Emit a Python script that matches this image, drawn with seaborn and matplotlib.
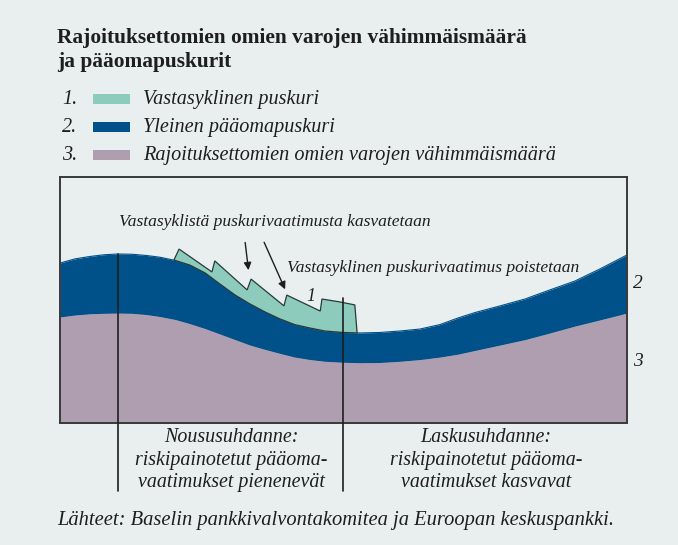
import numpy as np
import matplotlib
matplotlib.use("Agg")
import matplotlib.pyplot as plt
from matplotlib.patches import Rectangle
import seaborn as sns

# ---- data (conceptual units: time 0..100, level 0..100) ----
time = [0.0, 2.6, 5.3, 7.8, 10.2, 12.7, 15.2, 17.6, 20.3, 22.9, 25.6, 28.2, 30.9, 33.5, 36.2,
        38.8, 41.4, 44.1, 46.7, 49.9, 52.9, 56.4, 60.0, 63.5, 67.0, 70.2, 73.2, 77.6, 82.0,
        86.4, 90.8, 95.2, 100.0]
minimum_level = [43.1, 43.9, 44.4, 44.6, 44.7, 44.6, 44.1, 43.3, 42.1, 40.4, 38.4, 36.2, 33.9,
                 31.7, 29.9, 28.3, 26.8, 25.8, 25.1, 24.7, 24.5, 24.6, 25.1, 25.8, 26.8, 28.0,
                 29.5, 31.7, 33.9, 36.6, 39.4, 41.9, 44.7]
buffer_level = [65.0, 66.7, 67.7, 68.4, 68.7, 68.6, 68.1, 67.4, 66.1, 64.2, 61.0, 56.5, 52.0,
                48.4, 45.1, 42.3, 40.0, 38.6, 37.4, 36.8, 36.6, 36.8, 37.4, 38.2, 40.0, 42.7,
                44.9, 47.6, 50.4, 54.1, 57.7, 62.6, 68.3]
ccb_time = [20.1, 21.0, 26.8, 27.3, 33.0, 33.7, 39.5, 40.0, 45.9, 46.2, 49.4, 52.0, 52.4]
ccb_level = [66.3, 70.7, 61.4, 65.9, 54.1, 58.5, 47.6, 52.0, 45.5, 50.4, 49.2, 48.0, 36.6]

title = "Rajoituksettomien omien varojen vähimmäismäärä\nja pääomapuskurit"
legend_labels = ["Vastasyklinen puskuri", "Yleinen pääomapuskuri",
                 "Rajoituksettomien omien varojen vähimmäismäärä"]
phase_labels = ["Noususuhdanne:\nriskipainotetut pääoma-\nvaatimukset pienenevät",
                "Laskusuhdanne:\nriskipainotetut pääoma-\nvaatimukset kasvavat"]
phase_marks = [10.2, 49.9]
source = "Lähteet: Baselin pankkivalvontakomitea ja Euroopan keskuspankki."

C_GREEN = "#8DCBBC"
C_BLUE = "#00508A"
C_PURPLE = "#AF9EB0"
BG = "#E9EFEF"
INK = "#1e1e1e"

sns.set_style("white")
plt.rcParams["font.family"] = ["Liberation Serif", "DejaVu Serif"]

W, H = 678, 545
fig = plt.figure(figsize=(W / 100, H / 100), dpi=100, facecolor=BG)

def fx(px):
    return px / W

def fy(py):
    return 1 - py / H

ax = fig.add_axes([fx(60), fy(423), fx(627) - fx(60), fy(177) - fy(423)])
ax.set_facecolor(BG)
ax.set_xlim(0, 100)
ax.set_ylim(0, 100)
ax.set_xticks([])
ax.set_yticks([])
for s in ax.spines.values():
    s.set_color("#3a3a3a")
    s.set_linewidth(1.4)

t = np.array(time)
mn = np.array(minimum_level)
bf = np.array(buffer_level)

ax.fill_between(t, 0, mn, color=C_PURPLE, lw=0, zorder=1)
ax.fill_between(t, mn, bf, color=C_BLUE, lw=0, zorder=2)
sns.lineplot(x=t, y=mn, ax=ax, color=C_PURPLE, lw=0.8, zorder=1.5)
sns.lineplot(x=t, y=bf, ax=ax, color=C_BLUE, lw=0.8, zorder=2.5)

# counter-cyclical buffer polygon: jagged top + blue curve back
gt = np.array(ccb_time)
gl = np.array(ccb_level)
mask = (t > gt[0]) & (t < gt[-1])
poly_x = np.concatenate([gt, t[mask][::-1]])
poly_y = np.concatenate([gl, bf[mask][::-1]])
ax.fill(poly_x, poly_y, facecolor=C_GREEN, edgecolor="#2a3a36", lw=0.9, zorder=3)

# phase separator lines
tops = [float(np.interp(phase_marks[0], t, bf)), 51.0]
for xm, yt in zip(phase_marks, tops):
    ax.plot([xm, xm], [yt, -27.5], color=INK, lw=1.2, clip_on=False, zorder=4)

# annotations
fig.text(fx(275), fy(222), "Vastasyklistä puskurivaatimusta kasvatetaan", ha="center", va="center",
         fontsize=12.6, style="italic", color=INK)
fig.text(fx(433), fy(268), "Vastasyklinen puskurivaatimus poistetaan", ha="center", va="center",
         fontsize=12.6, style="italic", color=INK)
ax.text(44.2, 51.4, "1", ha="center", va="center", fontsize=13, style="italic", color=INK)
ax.annotate("", xy=(33.3, 61.0), xytext=(32.6, 74.5),
            arrowprops=dict(arrowstyle="-|>", color=INK, lw=1.0, mutation_scale=11))
ax.annotate("", xy=(39.9, 53.3), xytext=(35.8, 74.5),
            arrowprops=dict(arrowstyle="-|>", color=INK, lw=1.0, mutation_scale=11))

# right side labels
fig.text(fx(633), fy(283), "2", fontsize=14, style="italic", va="center", color=INK)
fig.text(fx(633), fy(361), "3", fontsize=14, style="italic", va="center", color=INK)

# title
fig.text(fx(57), fy(50), title, fontsize=15.4, fontweight="bold", va="center", ha="left",
         color=INK, linespacing=1.25)

# legend
legend_colors = [C_GREEN, C_BLUE, C_PURPLE]
for i, (lab, col) in enumerate(zip(legend_labels, legend_colors)):
    yc = 99 + i * 28
    fig.text(fx(62), fy(yc), f"{i + 1}.", fontsize=14.6, style="italic", va="center", color=INK)
    fig.patches.append(Rectangle((fx(93), fy(yc + 5)), fx(130) - fx(93), fy(yc - 5) - fy(yc + 5),
                                 transform=fig.transFigure, facecolor=col, edgecolor="none"))
    fig.text(fx(143), fy(yc), lab, fontsize=14.6, style="italic", va="center", color=INK)

# phase texts below chart
fig.text(fx(231), fy(460), phase_labels[0], fontsize=14.4, style="italic", ha="center",
         va="center", color=INK, linespacing=1.25)
fig.text(fx(486), fy(460), phase_labels[1], fontsize=14.4, style="italic", ha="center",
         va="center", color=INK, linespacing=1.25)

# source
fig.text(fx(57), fy(521), source, fontsize=14.8, style="italic", va="center", color=INK)

fig.savefig("out.png", dpi=100, facecolor=BG)
